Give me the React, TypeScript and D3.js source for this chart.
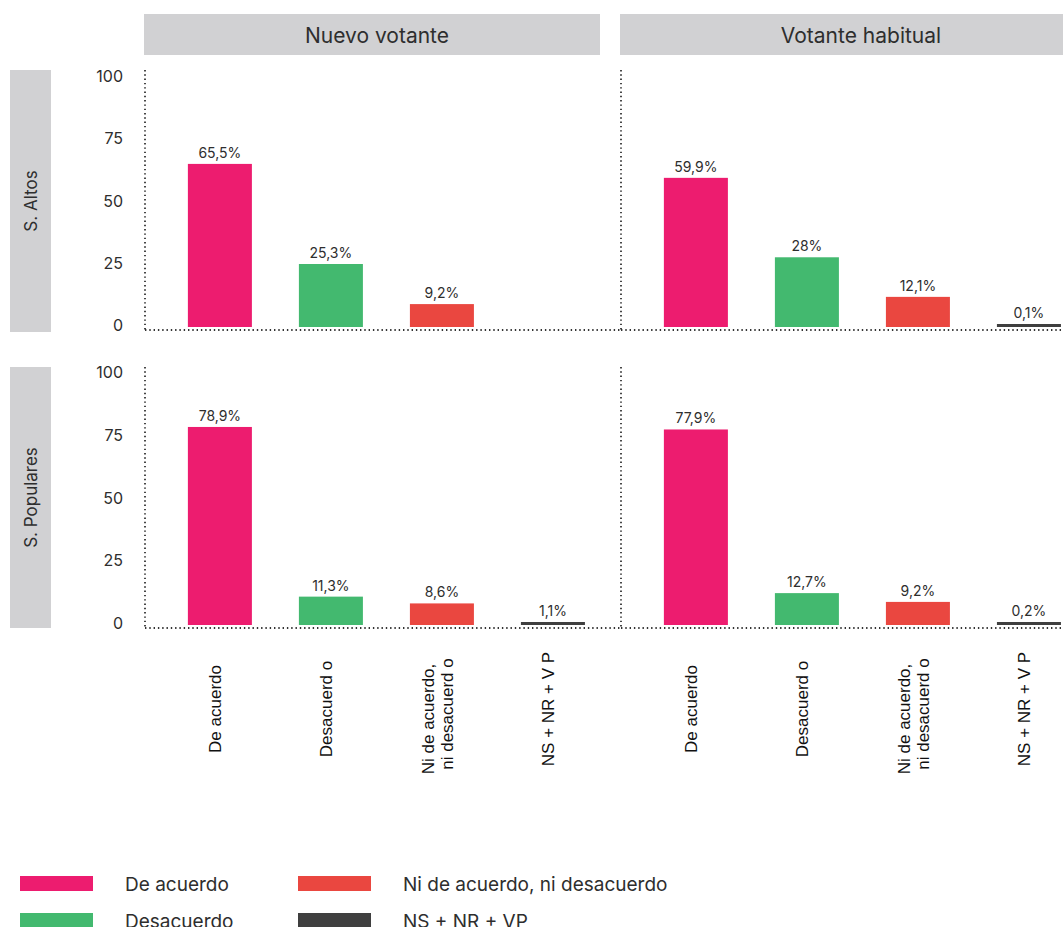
import React from "react";
import * as d3 from "d3";

// Facet layout: columns = voter type, rows = social sector
const columns = ["Nuevo votante", "Votante habitual"];
const rows = ["S. Altos", "S. Populares"];
const categories = ["De acuerdo", "Desacuerdo", "Ni de acuerdo, ni desacuerdo", "NS + NR + VP"];
const axisLabels: string[][] = [
  ["De acuerdo"],
  ["Desacuerd o"],
  ["Ni de acuerdo,", "ni desacuerd o"],
  ["NS + NR + V P"],
];
const colors = ["#ED1C6F", "#43B96F", "#EA4740", "#3F3F3F"];

// Percentages per panel (null = no answer recorded)
const altosNuevo: (number | null)[] = [65.5, 25.3, 9.2, null];
const altosHabitual: (number | null)[] = [59.9, 28, 12.1, 0.1];
const popularesNuevo: (number | null)[] = [78.9, 11.3, 8.6, 1.1];
const popularesHabitual: (number | null)[] = [77.9, 12.7, 9.2, 0.2];
const panelValues = [
  [altosNuevo, altosHabitual],
  [popularesNuevo, popularesHabitual],
];
const yTicks = [0, 25, 50, 75, 100];

const W = 1063;
const H = 927;
const colX = [145, 621];
const headerCenter = [232, 240];
const panelW = 455;
const rowRange: [number, number][] = [
  [327, 78],
  [625, 374],
];
const rowStrip: [number, number][] = [
  [70, 332],
  [367, 628],
];

const FONT = "Inter, 'Noto Sans', sans-serif";
const AXFONT = "'Liberation Sans', Arial, sans-serif";
const TEXT = "#2e2e2e";
const STRIP = "#D1D1D3";

const fmt = (v: number) => {
  const s = Number.isInteger(v) ? String(v) : v.toFixed(1).replace(".", ",");
  return s + "%";
};

const x = d3
  .scaleBand<string>()
  .domain(categories)
  .range([0, panelW])
  .paddingInner(0.4234)
  .paddingOuter(0.261)
  .align(0.74);

export default function App() {
  const yScales = rowRange.map((r) => d3.scaleLinear().domain([0, 100]).range(r));
  const dots = { stroke: "#333", strokeWidth: 1.8, strokeDasharray: "1.4 2.9", fill: "none" };
  return (
    <div style={{ position: "absolute", left: 0, top: 0, width: W, height: H, overflow: "hidden", background: "#fff" }}>
      <svg width={W} height={H} style={{ display: "block" }}>
        {/* column headers */}
        {columns.map((c, ci) => (
          <g key={c}>
            <rect x={colX[ci] - 1} y={14} width={panelW + 1} height={41} fill={STRIP} />
            <text
              x={colX[ci] + headerCenter[ci]}
              y={35}
              textAnchor="middle"
              dominantBaseline="central"
              fontFamily={FONT}
              fontSize={21}
              fill={TEXT}
            >
              {c}
            </text>
          </g>
        ))}

        {rows.map((r, ri) => {
          const y = yScales[ri];
          const [s0, s1] = rowStrip[ri];
          const base = y(0);
          return (
            <g key={r}>
              {/* row strip */}
              <rect x={10} y={s0} width={41} height={s1 - s0} fill={STRIP} />
              <text
                transform={`translate(31,${(s0 + s1) / 2}) rotate(-90)`}
                textAnchor="middle"
                dominantBaseline="central"
                fontFamily={FONT}
                fontSize={17}
                fill={TEXT}
              >
                {r}
              </text>
              {/* y tick labels */}
              {yTicks.map((t) => (
                <text
                  key={t}
                  x={123}
                  y={y(t) - 2}
                  textAnchor="end"
                  dominantBaseline="central"
                  fontFamily={FONT}
                  fontSize={16}
                  fill={TEXT}
                >
                  {t}
                </text>
              ))}
              {columns.map((c, ci) => {
                const x0 = colX[ci];
                const vals = panelValues[ri][ci];
                return (
                  <g key={c} transform={`translate(${x0},0)`}>
                    <line x1={0} x2={0} y1={s0} y2={base + 3} {...dots} />
                    <line x1={0} x2={panelW + 20} y1={base + 3} y2={base + 3} {...dots} />
                    {categories.map((cat, k) => {
                      const v = vals[k];
                      if (v == null) return null;
                      const h = Math.max(base - y(v), 3);
                      const bx = x(cat)!;
                      return (
                        <g key={cat}>
                          <rect x={bx} y={base - h} width={x.bandwidth()} height={h} fill={colors[k]} />
                          <text
                            x={bx + x.bandwidth() / 2}
                            y={base - h - 6}
                            textAnchor="middle"
                            fontFamily={FONT}
                            fontSize={14}
                            fill={TEXT}
                          >
                            {fmt(v)}
                          </text>
                        </g>
                      );
                    })}
                  </g>
                );
              })}
            </g>
          );
        })}

        {/* rotated category labels under the bottom row */}
        {columns.map((c, ci) =>
          categories.map((cat, k) => {
            const cx = colX[ci] + x(cat)! + x.bandwidth() / 2 - 4;
            const lines = axisLabels[k];
            const lh = 19;
            return (
              <g key={c + cat}>
                {lines.map((ln, li) => (
                  <text
                    key={li}
                    transform={`translate(${cx + (li - (lines.length - 1) / 2) * lh},${lines.length > 1 ? 719 - li * 5 : 709}) rotate(-90)`}
                    textAnchor="middle"
                    dominantBaseline="central"
                    fontFamily={AXFONT}
                    fontSize={17}
                    fill="#111"
                  >
                    {ln}
                  </text>
                ))}
              </g>
            );
          })
        )}

        {/* legend */}
        {categories.map((cat, k) => {
          const col = Math.floor(k / 2);
          const row = k % 2;
          const lx = col === 0 ? 20 : 298;
          const ly = 876 + row * 37;
          return (
            <g key={cat}>
              <rect x={lx} y={ly} width={73} height={15} fill={colors[k]} />
              <text
                x={lx + 105}
                y={ly + 8}
                dominantBaseline="central"
                fontFamily={FONT}
                fontSize={19}
                fill={TEXT}
              >
                {cat}
              </text>
            </g>
          );
        })}
      </svg>
    </div>
  );
}
